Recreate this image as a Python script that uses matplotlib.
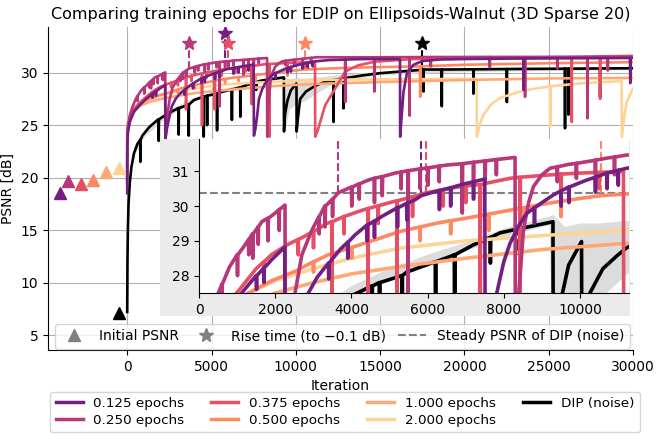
import numpy as np
import matplotlib.pyplot as plt
from matplotlib.lines import Line2D
from matplotlib.patches import Rectangle

labels = ['0.125 epochs', '0.250 epochs', '0.375 epochs', '0.500 epochs',
          '1.000 epochs', '2.000 epochs', 'DIP (noise)']
colors = ['#721f81', '#b73779', '#e55064', '#fc8961', '#fea973', '#fed395', 'black']

# (iteration, PSNR), dips included
run_0125 = [
    (0, 18.5), (5, 23.0), (40, 24.3), (150, 25.3), (400, 26.3), (800, 27.0), (1120, 27.5),
    (1500, 28.0), (1510, 27.6), (1520, 28.0), (1700, 28.22), (1705, 27.8), (1710, 28.22),
    (1900, 28.45), (2250, 28.82),
    (2265, 23.6), (2350, 24.6), (2500, 25.8), (2650, 26.8), (2870, 27.5), (3100, 27.95),
    (3395, 28.36), (3405, 27.9), (3415, 28.36), (3700, 28.75), (3900, 28.96), (3905, 28.5),
    (3910, 28.96), (4095, 29.17), (4400, 29.45), (4410, 29.0), (4420, 29.45),
    (4600, 29.57), (4605, 29.1), (4610, 29.57), (4795, 29.7), (5200, 29.95), (5210, 29.4),
    (5220, 29.95), (5450, 30.08), (5455, 29.6), (5460, 30.08), (5670, 30.18), (5830, 30.3),
    (6300, 30.45), (6310, 29.9), (6320, 30.45), (6600, 30.53), (6605, 30.0), (6610, 30.53),
    (6900, 30.62), (7200, 30.7), (7205, 30.2), (7210, 30.7), (7500, 30.78),
    (7515, 24.0), (7600, 24.6), (7700, 25.8), (7815, 27.5), (8000, 28.4), (8164, 28.93),
    (8400, 29.45), (8602, 29.79), (8800, 29.95), (8805, 29.5), (8810, 29.95), (9000, 30.1),
    (9300, 30.32), (9500, 30.44), (9505, 30.0), (9510, 30.44), (9700, 30.55), (9710, 30.1),
    (9720, 30.55), (10177, 30.75), (10400, 30.83), (10405, 30.4), (10410, 30.83),
    (10700, 30.95), (10710, 30.5), (10720, 30.95), (11000, 31.03), (11005, 30.6),
    (11010, 31.03), (11226, 31.09), (12000, 31.2), (13000, 31.25), (14000, 31.3),
    (16180, 31.3),
    (16190, 23.9), (16250, 25.2), (16390, 28.2), (16600, 30.0), (16980, 30.75),
    (17500, 31.1), (18500, 31.25), (20000, 31.3), (23500, 31.35), (23520, 28.35),
    (23540, 31.35), (29820, 31.4), (29840, 29.0), (29860, 31.4), (30000, 31.4),
]
run_0250 = [
    (0, 19.7), (5, 23.5), (30, 24.8), (120, 25.7), (300, 26.7), (507, 27.5),
    (600, 27.75), (605, 27.3), (610, 27.75), (800, 28.25), (1000, 28.6), (1010, 28.0),
    (1020, 28.6), (1207, 28.88), (1300, 29.04), (1305, 28.6), (1310, 29.04), (1400, 29.2),
    (1410, 28.5), (1420, 29.2), (1550, 29.4), (1555, 28.9), (1560, 29.4), (1645, 29.55),
    (1800, 29.65), (1810, 29.0), (1820, 29.65), (2000, 29.8), (2100, 29.9), (2105, 29.3),
    (2110, 29.9), (2257, 30.03),
    (2270, 23.8), (2330, 24.8), (2400, 26.2), (2520, 27.5), (2700, 28.6), (2958, 29.3),
    (3150, 29.7), (3155, 29.2), (3160, 29.7), (3300, 30.0), (3310, 29.4), (3320, 30.0),
    (3500, 30.2), (3505, 29.7), (3510, 30.2), (3650, 30.38), (4000, 30.55), (4010, 30.0),
    (4020, 30.55), (4200, 30.64), (4205, 30.2), (4210, 30.64), (4445, 30.75),
    (4600, 30.8), (4605, 30.1), (4610, 30.8), (4800, 30.85), (4810, 30.3), (4820, 30.85),
    (5145, 30.95), (5300, 30.98), (5305, 30.5), (5310, 30.98), (5480, 31.02), (5486, 26.8),
    (5495, 31.02), (5800, 31.07), (5805, 30.5), (5810, 31.07), (6000, 31.1), (6010, 30.6),
    (6020, 31.1), (6300, 31.15), (6305, 30.7), (6310, 31.15), (6500, 31.18), (6900, 31.22),
    (6910, 29.8), (6920, 31.22), (7200, 31.26), (7205, 30.6), (7210, 31.26), (7500, 31.3),
    (7510, 30.7), (7520, 31.3), (7800, 31.34), (7805, 30.9), (7810, 31.34), (8295, 31.4),
    (8305, 23.9), (8350, 26.0), (8400, 27.6), (8514, 29.3), (8650, 30.1), (8776, 30.56),
    (9000, 30.9), (9214, 31.09), (9400, 31.13), (9405, 30.7), (9410, 31.13), (9700, 31.2),
    (9900, 31.23), (9905, 30.8), (9910, 31.23), (10177, 31.28), (10400, 31.32),
    (10405, 30.9), (10410, 31.32), (10700, 31.38), (10900, 31.41), (10905, 30.9),
    (10910, 31.41), (11226, 31.47), (12920, 31.47), (12930, 27.2), (12940, 31.47),
    (14650, 31.47), (14660, 28.2), (14670, 31.47), (16740, 31.48), (16750, 25.9),
    (16760, 31.48), (18000, 31.49), (18010, 30.6), (18020, 31.49), (20000, 31.5),
    (21500, 31.5), (21510, 30.5), (21520, 31.5), (23590, 31.5), (23600, 27.7),
    (23610, 31.5), (25500, 31.5), (25510, 30.4), (25520, 31.5), (27290, 31.5),
    (27300, 25.65), (27310, 31.5), (28500, 31.5), (28510, 30.2), (28520, 31.5),
    (30000, 31.52),
]
run_0375 = [
    (0, 19.4), (5, 23.2), (40, 24.5), (150, 25.5), (400, 26.5), (700, 27.1), (990, 27.5),
    (1500, 28.2), (1700, 28.4), (1705, 28.0), (1710, 28.4), (1900, 28.6), (2302, 28.88),
    (2600, 29.04), (2605, 28.6), (2610, 29.04), (2800, 29.15), (3000, 29.27), (3005, 28.8),
    (3010, 29.27), (3352, 29.5), (3483, 29.55), (3490, 26.5), (3497, 29.55), (3800, 29.7),
    (3805, 29.2), (3810, 29.7), (4200, 29.85), (4430, 29.93), (4437, 25.0), (4444, 29.93),
    (4700, 30.01), (4705, 29.5), (4710, 30.01), (5101, 30.13), (5190, 30.15), (5197, 26.5),
    (5204, 30.15), (5600, 30.27), (5605, 29.7), (5610, 30.27), (5950, 30.38), (6400, 30.47),
    (6405, 30.0), (6410, 30.47), (6800, 30.55), (7000, 30.58), (7005, 30.1), (7010, 30.58),
    (7376, 30.62), (7383, 27.0), (7390, 30.62), (7638, 30.68), (8164, 30.8), (8420, 30.83),
    (8427, 23.9), (8434, 30.83), (9000, 30.88), (9500, 30.92), (9505, 30.4), (9510, 30.92),
    (10000, 30.95), (10500, 30.97), (10505, 30.5), (10510, 30.97), (11140, 31.0),
    (11150, 23.9), (11300, 24.5), (11745, 26.9), (12340, 28.5), (12930, 30.1),
    (13700, 30.7), (14710, 31.05), (17000, 31.3), (20000, 31.4), (26360, 31.5),
    (26370, 25.3), (26380, 31.5), (28040, 31.55), (28050, 27.5), (28060, 31.55),
    (30000, 31.6),
]
run_0500 = [
    (0, 19.8), (5, 23.5), (50, 24.6), (200, 25.6), (500, 26.5), (900, 27.2), (1300, 27.5),
    (1900, 27.85), (2520, 28.12), (3000, 28.4), (3005, 28.1), (3010, 28.4), (3395, 28.6),
    (4000, 28.81), (4005, 28.5), (4010, 28.81), (4400, 28.95), (5276, 29.27), (5800, 29.4),
    (5805, 29.0), (5810, 29.4), (6200, 29.5), (6600, 29.58), (6605, 29.2), (6610, 29.58),
    (7000, 29.65), (7600, 29.77), (7605, 29.3), (7610, 29.77), (8000, 29.85),
    (8500, 29.95), (8505, 29.55), (8510, 29.95), (9000, 30.05), (9500, 30.14),
    (9505, 29.7), (9510, 30.14), (10000, 30.22), (10551, 30.3), (11225, 30.35),
    (12000, 30.4), (14000, 30.5), (17370, 30.6), (17380, 27.7), (17390, 30.6),
    (20000, 30.75), (25000, 30.9), (30000, 31.0),
]
run_1000 = [
    (0, 20.57), (5, 24.2), (60, 25.1), (250, 26.0), (700, 26.8), (1300, 27.2), (2000, 27.5),
    (3000, 27.8), (4000, 28.05), (5276, 28.26), (7000, 28.5), (9000, 28.75), (11225, 28.93),
    (15000, 29.1), (20000, 29.3), (25000, 29.45), (30000, 29.5),
]
run_2000 = [
    (0, 20.95), (5, 24.8), (60, 25.6), (300, 26.6), (800, 27.2), (1300, 27.5), (2000, 27.85),
    (3000, 28.2), (4000, 28.5), (5276, 28.79), (7000, 29.0), (9000, 29.15), (11225, 29.31),
    (14000, 29.35), (17000, 29.38), (20730, 29.4),
    (20740, 23.9), (20900, 25.0), (21140, 26.0), (21600, 27.0), (22125, 27.6), (23500, 28.3),
    (25090, 28.7), (25100, 24.9), (25110, 28.7), (27000, 29.0), (29330, 29.2),
    (29340, 23.9), (29500, 26.0), (29630, 27.2), (30000, 28.5),
]
run_dip = [
    (0, 7.2), (15, 12.0), (40, 15.0), (80, 17.5), (150, 19.5), (250, 21.0), (400, 22.3),
    (600, 23.2), (770, 23.6), (780, 21.5), (790, 23.6), (900, 24.0), (1300, 24.8),
    (1800, 25.5), (1860, 25.55), (1870, 23.5), (1880, 25.55), (2300, 26.0), (3000, 26.6),
    (3045, 26.62), (3055, 24.1), (3065, 26.62), (3640, 26.95), (3650, 24.0), (3660, 26.95),
    (3964, 27.4), (4530, 27.7), (4540, 23.9), (4550, 27.7), (4730, 27.8), (4740, 25.0),
    (4750, 27.8), (5320, 28.0), (5330, 24.5), (5340, 28.0), (5451, 28.1), (6200, 28.4),
    (6210, 25.5), (6220, 28.4), (6589, 28.55), (6700, 28.6), (6710, 25.8), (6720, 28.6),
    (7193, 28.88), (7638, 29.1), (7648, 28.36), (7658, 29.1), (7901, 29.23), (8400, 29.35),
    (8410, 28.6), (8420, 29.35), (9290, 29.55),
    (9300, 24.4), (9360, 26.0), (9500, 27.3), (9700, 28.3), (10040, 28.98), (10050, 24.4),
    (10150, 26.0), (10260, 27.5), (10600, 28.2), (11000, 28.6), (11225, 28.8),
    (11700, 29.1), (12230, 29.3), (12240, 25.3), (12250, 29.3), (12820, 29.45),
    (12830, 26.6), (12840, 29.45), (14000, 29.75), (15000, 29.95), (17500, 30.28),
    (17570, 30.28), (17580, 28.2), (17590, 30.3), (18650, 30.3), (18660, 26.8),
    (18670, 30.3), (20530, 30.32), (20540, 28.0), (20550, 30.32), (22510, 30.35),
    (22520, 27.2), (22530, 30.35), (25960, 30.38), (25970, 24.7), (25980, 30.38),
    (26160, 30.38), (26170, 26.0), (26180, 30.38), (28040, 30.4), (28050, 27.7),
    (28060, 30.4), (30000, 30.42),
]
runs = [run_0125, run_0250, run_0375, run_0500, run_1000, run_2000, run_dip]

# spread of the other DIP runs (light grey)
band_x = [0, 500, 1000, 2000, 3000, 4000, 5000, 6000, 7000, 8000, 9200, 9300, 9600,
          10000, 10500, 11000, 11500, 12000, 13000, 15000, 20000, 25000, 30000]
band_lo = [7.1, 22.4, 23.9, 25.3, 26.4, 27.3, 27.9, 28.3, 28.7, 29.1, 29.45, 24.0, 26.5,
           27.0, 27.3, 27.8, 28.3, 28.8, 29.3, 29.8, 30.1, 30.2, 30.3]
band_hi = [7.4, 22.9, 24.4, 25.8, 26.9, 27.7, 28.2, 28.6, 28.95, 29.35, 29.7, 29.75, 29.4,
           29.5, 29.5, 29.55, 29.6, 29.7, 29.9, 30.1, 30.4, 30.5, 30.55]

init_x = [-4000, -3500, -2750, -2000, -1250, -500, -500]
init_y = [18.51, 19.69, 19.37, 19.79, 20.57, 20.95, 7.14]
rise_x = [5827, 3650, 5950, 10551, None, None, 17500]
rise_y = [33.78, 32.83, 32.83, 32.83, None, None, 32.83]
steady_psnr = 30.38

fig = plt.figure(figsize=(6.59, 4.43), dpi=100)
ax = fig.add_axes([0.0728, 0.2099, 0.8877, 0.7291])
axins = fig.add_axes([0.302, 0.3386, 0.6525, 0.3476])
axins.set_zorder(3)
fig.add_artist(Rectangle((0.2428, 0.2867), 0.7132, 0.3995, transform=fig.transFigure,
                         facecolor='#ebebeb', edgecolor='none', zorder=2.5))

for a, lw in [(ax, 1.9), (axins, 2.6)]:
    a.fill_between(band_x, band_lo, band_hi, color='#dcdcdc', lw=0, zorder=1)
    for i in [6, 5, 4, 3, 2, 0, 1]:
        x, y = np.array(runs[i]).T
        a.plot(x, y, color=colors[i], lw=lw, zorder=2 + 0.1 * (6 - i) if i < 6 else 1.5)
    for i in range(7):
        if rise_x[i] is not None:
            a.plot([rise_x[i], rise_x[i]], [steady_psnr, rise_y[i]], ls='--',
                   color=colors[i], lw=1.5, zorder=1.2)

for i in range(7):
    ax.plot(init_x[i], init_y[i], marker='^', ms=9, color=colors[i], ls='none', zorder=5)
    if rise_x[i] is not None:
        ax.plot(rise_x[i], rise_y[i], marker='*', ms=10, color=colors[i], ls='none', zorder=5)

axins.axhline(steady_psnr, ls='--', color='gray', lw=1.5, zorder=1.1)

ax.set_xlim(-4700, 30000)
ax.set_ylim(3.57, 34.35)
ax.set_xticks([0, 5000, 10000, 15000, 20000, 25000, 30000])
ax.set_yticks([5, 10, 15, 20, 25, 30])
ax.grid(True, color='#b0b0b0', lw=0.8)
ax.set_axisbelow(True)
for s in ['top', 'right']:
    ax.spines[s].set_visible(False)
ax.set_xlabel('Iteration')
ax.set_ylabel('PSNR [dB]')
ax.set_title('Comparing training epochs for EDIP on Ellipsoids-Walnut (3D Sparse 20)',
             fontsize=11.5)

axins.set_xlim(0, 11286)
axins.set_ylim(27.5, 31.93)
axins.set_xticks([0, 2000, 4000, 6000, 8000, 10000])
axins.set_yticks([28, 29, 30, 31])
for s in ['top', 'right']:
    axins.spines[s].set_visible(False)

marker_handles = [
    Line2D([], [], marker='^', ms=9, color='gray', ls='none'),
    Line2D([], [], marker='*', ms=10, color='gray', ls='none'),
    Line2D([], [], ls='--', color='gray', lw=1.5),
]
ax.legend(marker_handles, ['Initial PSNR', 'Rise time (to \u22120.1 dB)',
                           'Steady PSNR of DIP (noise)'],
          ncol=3, loc='lower left', mode='expand', borderaxespad=0,
          bbox_to_anchor=(0.012, 0.004, 0.983, 0.1), fontsize=10)

line_handles = [Line2D([], [], color=c, lw=2.5) for c in colors]
fig.legend(line_handles, labels, ncol=4, loc='lower center', borderaxespad=0,
           bbox_to_anchor=(0.5235, 0.024), fontsize=9.7, labelspacing=0.3)

fig.savefig('out.png', dpi=100)
